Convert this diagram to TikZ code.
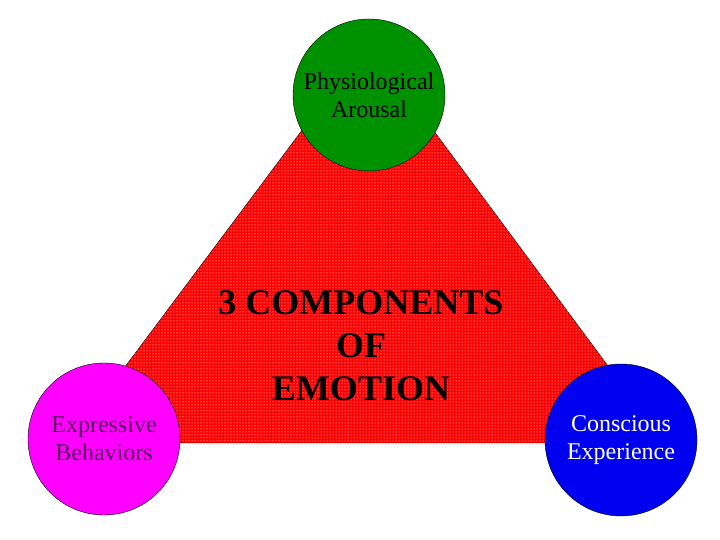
\documentclass[tikz,border=0pt]{standalone}
\usepackage{fontspec}
\setmainfont{Liberation Serif}
\usetikzlibrary{patterns}

\definecolor{arousalgreen}{RGB}{0,145,0}
\definecolor{behavmagenta}{RGB}{255,0,255}
\definecolor{behavtext}{RGB}{85,0,90}
\definecolor{consblue}{RGB}{0,0,240}

\begin{document}
\begin{tikzpicture}[x=1pt,y=1pt,
 comp/.style={circle,draw,minimum size=152pt,inner sep=0pt,align=center,font=\fontsize{24}{28}\selectfont}]
\useasboundingbox (0,0) rectangle (720,540);
% triangle
\coordinate (apex) at (368,498);
\coordinate (left) at (68,97);
\coordinate (right) at (665,97);
\draw[fill=red,postaction={pattern=dots,pattern color=white}] (apex) -- (left) -- (right) -- cycle;
\node[align=center,font=\bfseries\fontsize{36}{43}\selectfont] (title) at (361,194) {3 COMPONENTS\\OF\\EMOTION};
% components
\node[comp,fill=arousalgreen] (arousal) at (369,445) {Physiological\\Arousal};
\node[comp,fill=behavmagenta,text=behavtext] (behav) at (104,101) {Expressive\\Behaviors};
\node[comp,fill=consblue,text=white] (cons) at (621,100) {Conscious\\Experience};
\end{tikzpicture}
\end{document}
